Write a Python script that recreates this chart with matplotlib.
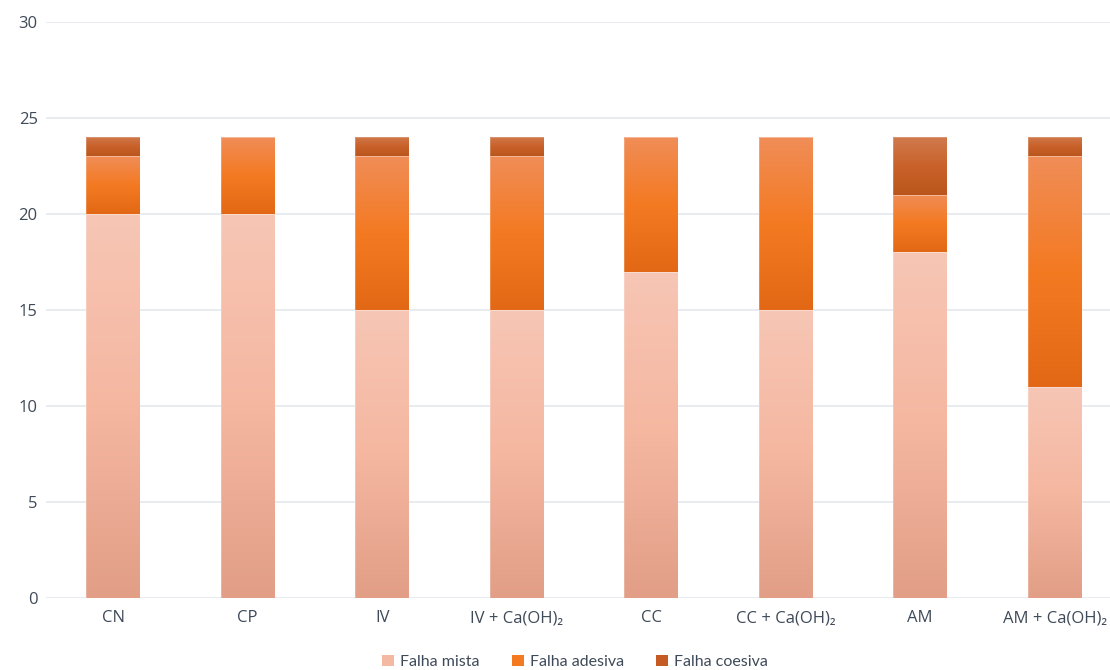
import numpy as np
import matplotlib
matplotlib.use("Agg")
import matplotlib.pyplot as plt
from matplotlib.colors import LinearSegmentedColormap
from matplotlib.patches import Patch

plt.rcParams['font.family'] = ['Open Sans', 'DejaVu Sans']

categories = ["CN", "CP", "IV", "IV + Ca(OH)\u2082", "CC", "CC + Ca(OH)\u2082", "AM", "AM + Ca(OH)\u2082"]
falha_mista = [20, 20, 15, 15, 17, 15, 18, 11]
falha_adesiva = [3, 4, 8, 8, 7, 9, 3, 12]
falha_coesiva = [1, 0, 1, 1, 0, 0, 3, 1]

series = [
    ("Falha mista", falha_mista, ["#E29E87", "#F5B7A0", "#F7C6B5"], "#F4B9A3"),
    ("Falha adesiva", falha_adesiva, ["#E36815", "#F47A22", "#F08D57"], "#F47A20"),
    ("Falha coesiva", falha_coesiva, ["#BA561D", "#C9622A", "#D07A4E"], "#C55A22"),
]

fig = plt.figure(figsize=(11.1, 6.7), dpi=100)
ax = fig.add_axes([46 / 1110, 72 / 670, 1076 / 1110, 576 / 670])

x = np.arange(len(categories))
width = 0.4
bottom = np.zeros(len(categories))
grad = np.linspace(0, 1, 256).reshape(-1, 1)

for name, vals, stops, _ in series:
    cmap = LinearSegmentedColormap.from_list(name, stops)
    bars = ax.bar(x, vals, width, bottom=bottom, color="none",
                  edgecolor=(1, 1, 1, 0.25), linewidth=0.6, zorder=3)
    for b, v, b0 in zip(bars, vals, bottom):
        if v == 0:
            continue
        x0 = b.get_x()
        im = ax.imshow(grad, cmap=cmap, origin="lower", aspect="auto",
                       extent=[x0, x0 + width, b0, b0 + v], zorder=2)
        im.set_clip_path(b)
    bottom = bottom + np.array(vals)

ax.set_xlim(-0.5, 7.5)
ax.set_ylim(0, 30)
ax.set_yticks(range(0, 31, 5))
ax.set_xticks(x)
ax.set_xticklabels(categories)
ax.tick_params(axis="both", length=0, labelsize=12, colors="#3F4A59")
ax.tick_params(axis="x", pad=9)
ax.tick_params(axis="y", pad=6)
ax.grid(axis="y", color="#E4E8EE", linewidth=1.2, zorder=0)
ax.set_axisbelow(True)
for s in ax.spines.values():
    s.set_visible(False)

handles = [Patch(facecolor=c, edgecolor="none", label=n) for n, _, _, c in series]
fig.legend(handles=handles, loc="lower center", bbox_to_anchor=(0.518, -0.02), ncol=3,
           frameon=False, prop={"family": "Lato", "size": 11.5}, handlelength=0.75,
           handleheight=0.75, handletextpad=0.4, columnspacing=2.0, labelcolor="#3F4A59")

fig.savefig("out.png", dpi=100)
